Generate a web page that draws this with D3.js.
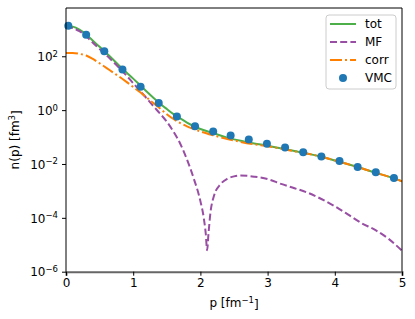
<!DOCTYPE html>
<html>
<head>
<meta charset="utf-8">
<script src="https://cdn.jsdelivr.net/npm/d3@7"></script>
<style>
  body { margin: 0; background: #fff; }
  text { font-family: "DejaVu Sans", sans-serif; fill: #000; }
</style>
</head>
<body>
<svg id="chart"></svg>
<script>
// momentum distribution n(p), log scale
const pGrid = [0, 0.1, 0.2, 0.3, 0.4, 0.5, 0.6, 0.7, 0.8, 0.9, 1.0, 1.1, 1.2, 1.3, 1.4, 1.5, 1.6, 1.7, 1.8, 1.9, 2.0,
    2.2, 2.4, 2.6, 2.8, 3.0, 3.2, 3.4, 3.6, 3.8, 4.0, 4.2, 4.4, 4.6, 4.8, 5.0]

const totValues = [1350, 1260, 977, 646, 380, 224, 132, 75.9, 42.7, 25.1, 14.8, 8.51, 4.90, 2.88, 1.74, 1.10, 0.708, 0.490, 0.347, 0.257, 0.200,
    0.138, 0.0955, 0.0724, 0.0575, 0.0479, 0.0380, 0.0302, 0.0240, 0.0186, 0.0135, 0.00977, 0.00692, 0.00479, 0.00339, 0.00229]

const corrValues = [132, 132, 123, 107, 79.4, 55.0, 37.2, 25.1, 17.0, 11.2, 7.24, 4.68, 2.95, 1.82, 1.15, 0.708, 0.468, 0.331, 0.251, 0.200, 0.162,
    0.115, 0.0851, 0.0661, 0.0537, 0.0457, 0.0372, 0.0295, 0.0240, 0.0186, 0.0135, 0.00977, 0.00692, 0.00479, 0.00339, 0.00229]

// mean field has a node near p = 2.1, so it gets a finer grid there
const pMF = [0, 0.1, 0.2, 0.3, 0.4, 0.5, 0.6, 0.7, 0.8, 0.9, 1.0, 1.1, 1.2, 1.3, 1.4, 1.5, 1.6, 1.7, 1.8, 1.9, 2.0,
    2.05, 2.08, 2.1, 2.12, 2.15, 2.2, 2.3, 2.4, 2.5, 2.6, 2.7, 2.8, 3.0, 3.2, 3.4, 3.6, 3.8, 4.0, 4.2, 4.4, 4.6, 4.8, 5.0]
const mfValues = [1230, 1120, 851, 550, 316, 186, 110, 63.1, 35.5, 19.1, 10.0, 5.25, 2.75, 1.41, 0.741, 0.372, 0.158, 0.0562, 0.0148, 0.00295, 4.17e-4,
    1.0e-4, 2.51e-5, 6.31e-6, 2.51e-5, 1.58e-4, 6.31e-4, 1.78e-3, 2.82e-3, 3.47e-3, 3.72e-3, 3.63e-3, 3.39e-3, 2.75e-3, 1.82e-3, 1.26e-3, 8.51e-4, 5.01e-4, 2.69e-4, 1.32e-4, 6.31e-5, 3.55e-5, 1.66e-5, 6.03e-6]

const pVMC = [0.034, 0.30, 0.57, 0.84, 1.11, 1.38, 1.65, 1.92, 2.19, 2.45, 2.72, 2.99, 3.26, 3.53, 3.80, 4.07, 4.34, 4.61, 4.88]
const vmcValues = [1350, 623, 154, 32.0, 7.45, 1.82, 0.58, 0.253, 0.161, 0.114, 0.081, 0.056, 0.0408, 0.0272, 0.0188, 0.0128, 0.00778, 0.0049, 0.00303]

const xTicks = [0, 1, 2, 3, 4, 5]
const yTickExps = [-6, -4, -2, 0, 2]

const legendNames = ["tot", "MF", "corr", "VMC"]

const width = 415, height = 319
const margin = { left: 66, top: 8, right: 13, bottom: 48 }

const green = "#4daf4a", purple = "#984ea3", orange = "#ff7f00", blue = "#1f77b4"

const svg = d3.select("#chart")
    .attr("width", width)
    .attr("height", height)

const x = d3.scaleLinear()
    .domain([0, 5])
    .range([margin.left, width - margin.right])

const y = d3.scaleLog()
    .domain([1e-6, 6.2e3])
    .range([height - margin.bottom + 0.7, margin.top])

svg.append("clipPath").attr("id", "plotArea")
    .append("rect")
    .attr("x", margin.left).attr("y", margin.top)
    .attr("width", x(5) - x(0)).attr("height", y(1e-6) - margin.top)

const plot = svg.append("g").attr("clip-path", "url(#plotArea)")

function line(ps) {
    return d3.line()
        .x((d, i) => x(ps[i]))
        .y(d => y(d))
        .curve(d3.curveMonotoneX)
}

plot.append("path")
    .attr("d", line(pGrid)(totValues))
    .attr("fill", "none")
    .attr("stroke", green)
    .attr("stroke-width", 2)

plot.append("path")
    .attr("d", line(pMF)(mfValues))
    .attr("fill", "none")
    .attr("stroke", purple)
    .attr("stroke-width", 2)
    .attr("stroke-dasharray", "7,3.2")

plot.append("path")
    .attr("d", line(pGrid)(corrValues))
    .attr("fill", "none")
    .attr("stroke", orange)
    .attr("stroke-width", 2)
    .attr("stroke-dasharray", "12,3,2,3")

svg.append("g").selectAll("circle")
    .data(vmcValues)
    .join("circle")
    .attr("cx", (d, i) => x(pVMC[i]))
    .attr("cy", d => y(d))
    .attr("r", 4)
    .attr("fill", blue)

// axes
const xAxis = svg.append("g")
    .attr("transform", `translate(0,${y(1e-6)})`)
    .call(d3.axisBottom(x).tickValues(xTicks).tickFormat(d3.format("d")).tickSize(4).tickPadding(3))
xAxis.select(".domain").attr("stroke", "#666").attr("stroke-width", 2)
xAxis.selectAll("text").style("font-size", "12px").style("font-family", "DejaVu Sans")

const yAxis = svg.append("g")
    .attr("transform", `translate(${margin.left},0)`)
    .call(d3.axisLeft(y).tickValues(yTickExps.map(e => Math.pow(10, e))).tickFormat("").tickSize(4))
yAxis.select(".domain").remove()

yAxis.selectAll(".tick").append("text")
    .attr("x", -8)
    .attr("dy", "0.35em")
    .attr("text-anchor", "end")
    .style("font-size", "12px")
    .each(function(d) {
        const e = Math.round(Math.log10(d))
        const t = d3.select(this)
        t.append("tspan").text("10")
        t.append("tspan").attr("dy", "-0.5em").style("font-size", "8.5px").text(e < 0 ? "\u2212" + (-e) : e)
    })

// frame
svg.append("line").attr("x1", x(0)).attr("x2", x(0)).attr("y1", margin.top).attr("y2", y(1e-6))
    .attr("stroke", "#000").attr("stroke-width", 1)
svg.append("line").attr("x1", x(5)).attr("x2", x(5)).attr("y1", margin.top).attr("y2", y(1e-6))
    .attr("stroke", "#000").attr("stroke-width", 1)
svg.append("line").attr("x1", x(0)).attr("x2", x(5)).attr("y1", margin.top).attr("y2", margin.top)
    .attr("stroke", "#000").attr("stroke-width", 1)

// axis labels
svg.append("text")
    .attr("x", (x(0) + x(5)) / 2)
    .attr("y", 307)
    .attr("text-anchor", "middle")
    .style("font-size", "12px")
    .call(t => {
        t.append("tspan").text("p [fm")
        t.append("tspan").attr("dy", "-0.5em").style("font-size", "8.5px").text("\u22121")
        t.append("tspan").attr("dy", "0.5em").text("]")
    })

svg.append("text")
    .attr("transform", `translate(19,${(margin.top + y(1e-6)) / 2}) rotate(-90)`)
    .attr("text-anchor", "middle")
    .style("font-size", "12px")
    .call(t => {
        t.append("tspan").text("n(p) [fm")
        t.append("tspan").attr("dy", "-0.5em").style("font-size", "8.5px").text("3")
        t.append("tspan").attr("dy", "0.5em").text("]")
    })

// legend
const legend = svg.append("g").attr("transform", "translate(326,15)")
legend.append("rect")
    .attr("width", 70).attr("height", 74)
    .attr("rx", 3)
    .attr("fill", "#fff").attr("fill-opacity", 0.8)
    .attr("stroke", "#ccc")

const rows = legend.selectAll("g.row")
    .data(legendNames)
    .join("g")
    .attr("class", "row")
    .attr("transform", (d, i) => `translate(0,${9 + i * 18})`)

rows.filter(d => d !== "VMC").append("line")
    .attr("x1", 4).attr("x2", 30)
    .attr("stroke-width", 2)
    .attr("stroke", d => d === "tot" ? green : d === "MF" ? purple : orange)
    .attr("stroke-dasharray", d => d === "MF" ? "7,3.2" : d === "corr" ? "12,3,2,3" : null)

rows.filter(d => d === "VMC").append("circle")
    .attr("cx", 17).attr("r", 4).attr("fill", blue)

rows.append("text")
    .attr("x", 39)
    .attr("dy", "0.35em")
    .style("font-size", "12px")
    .text(d => d)
</script>
</body>
</html>
